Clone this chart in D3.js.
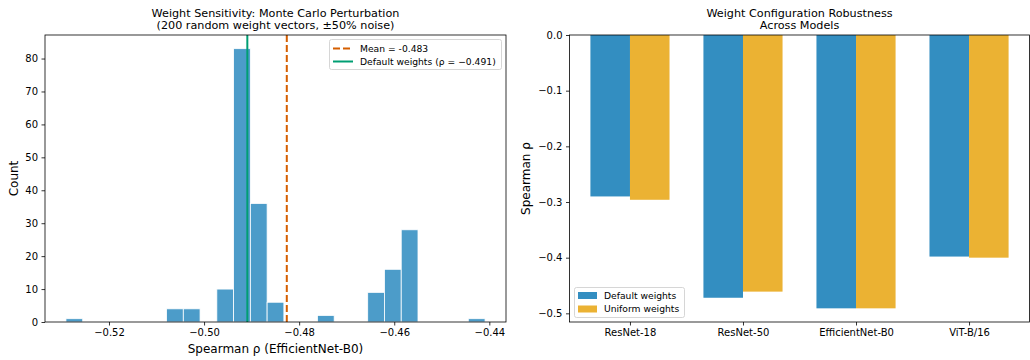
<!DOCTYPE html>
<html><head><meta charset="utf-8">
<script src="https://cdn.jsdelivr.net/npm/d3@7"></script>
<style>body{margin:0;background:#fff}svg{display:block;font-family:"DejaVu Sans",sans-serif}</style>
</head><body><svg id="c" width="1030" height="360"></svg>
<script>
// Histogram data (25 bins between binMin and binMax)
const binMin = -0.52905, binMax = -0.4409, nBins = 25;
const binIndex = [0, 6, 7, 9, 10, 11, 12, 15, 18, 19, 20, 24];
const binCount = [1, 4, 4, 10, 83, 36, 6, 2, 9, 16, 28, 1];
const meanRho = -0.4826, defaultRho = -0.4909;
const histXTicks = [-0.52, -0.50, -0.48, -0.46, -0.44];
const histYTicks = [0, 10, 20, 30, 40, 50, 60, 70, 80];

// Bar chart data
const models = ["ResNet-18", "ResNet-50", "EfficientNet-B0", "ViT-B/16"];
const defaultW = [-0.290, -0.472, -0.491, -0.398];
const uniformW = [-0.296, -0.461, -0.491, -0.400];
const barYTicks = [0.0, -0.1, -0.2, -0.3, -0.4, -0.5];

const svg = d3.select("#c");
const fmtMinus = s => s.replace("-", "\u2212");
const TICK_FS = 10, LABEL_FS = 12, TITLE_FS = 11.2, LEG_FS = 9.2;

// ---------- Left: histogram ----------
{
  const L = {l: 45, r: 506, t: 35, b: 322};
  const bw = (binMax - binMin) / nBins;
  const pad = (binMax - binMin) * 0.05;
  const x = d3.scaleLinear().domain([binMin - pad, binMax + pad]).range([L.l, L.r]);
  const y = d3.scaleLinear().domain([0, d3.max(binCount) * 1.05]).range([L.b, L.t]);
  const g = svg.append("g");
  const bins = binIndex.map((b, i) => ({x0: binMin + b * bw, x1: binMin + (b + 1) * bw, c: binCount[i]}));
  g.selectAll("rect.bar").data(bins).join("rect").attr("class", "bar")
    .attr("x", d => x(d.x0)).attr("width", d => x(d.x1) - x(d.x0))
    .attr("y", d => y(d.c)).attr("height", d => y(0) - y(d.c))
    .attr("fill", "#0072B2").attr("fill-opacity", 0.7)
    .attr("stroke", "#fff").attr("stroke-width", 0.8);
  g.append("line").attr("x1", x(meanRho)).attr("x2", x(meanRho)).attr("y1", L.t).attr("y2", L.b)
    .attr("stroke", "#D55E00").attr("stroke-width", 2).attr("stroke-dasharray", "7,3");
  g.append("line").attr("x1", x(defaultRho)).attr("x2", x(defaultRho)).attr("y1", L.t).attr("y2", L.b)
    .attr("stroke", "#009E73").attr("stroke-width", 2);
  const xa = g.append("g").attr("transform", `translate(0,${L.b})`)
    .call(d3.axisBottom(x).tickValues(histXTicks).tickSize(3.5).tickPadding(3.5).tickFormat(d => fmtMinus(d3.format(".2f")(d))));
  const ya = g.append("g").attr("transform", `translate(${L.l},0)`)
    .call(d3.axisLeft(y).tickValues(histYTicks).tickSize(3.5).tickPadding(3.5).tickFormat(d3.format("d")));
  [xa, ya].forEach(a => { a.selectAll("text").attr("font-size", TICK_FS).attr("fill", "#000").attr("font-family", "DejaVu Sans"); a.select(".domain").remove(); a.selectAll("line").attr("stroke", "#000").attr("stroke-width", 0.8); });
  g.append("rect").attr("x", L.l).attr("y", L.t).attr("width", L.r - L.l).attr("height", L.b - L.t)
    .attr("fill", "none").attr("stroke", "#000").attr("stroke-width", 0.8);
  const cx = (L.l + L.r) / 2;
  g.append("text").attr("x", cx).attr("y", 17).attr("text-anchor", "middle").attr("font-size", TITLE_FS).text("Weight Sensitivity: Monte Carlo Perturbation");
  g.append("text").attr("x", cx).attr("y", 29).attr("text-anchor", "middle").attr("font-size", TITLE_FS).text("(200 random weight vectors, \u00b150% noise)");
  g.append("text").attr("x", cx).attr("y", 353).attr("text-anchor", "middle").attr("font-size", LABEL_FS).text("Spearman \u03c1 (EfficientNet-B0)");
  g.append("text").attr("transform", `translate(18,${(L.t + L.b) / 2}) rotate(-90)`).attr("text-anchor", "middle").attr("font-size", LABEL_FS).text("Count");
  // legend
  const lg = g.append("g");
  lg.append("rect").attr("x", 329.5).attr("y", 39.5).attr("width", 172).attr("height", 30).attr("rx", 2)
    .attr("fill", "#fff").attr("fill-opacity", 0.8).attr("stroke", "#ccc").attr("stroke-width", 0.8);
  lg.append("line").attr("x1", 333).attr("x2", 353).attr("y1", 48.5).attr("y2", 48.5).attr("stroke", "#D55E00").attr("stroke-width", 2).attr("stroke-dasharray", "7,3");
  lg.append("line").attr("x1", 333).attr("x2", 353).attr("y1", 61.5).attr("y2", 61.5).attr("stroke", "#009E73").attr("stroke-width", 2);
  lg.append("text").attr("x", 360).attr("y", 51.8).attr("font-size", LEG_FS).text("Mean = " + meanRho.toFixed(3));
  lg.append("text").attr("x", 360).attr("y", 64.8).attr("font-size", LEG_FS).text("Default weights (\u03c1 = " + fmtMinus(defaultRho.toFixed(3)) + ")");
}

// ---------- Right: grouped bars ----------
{
  const R = {l: 569.5, r: 1029.5, t: 35, b: 322};
  const width = 0.35;
  const x = d3.scaleLinear().domain([-0.35 - 0.185, models.length - 1 + 0.35 + 0.185]).range([R.l, R.r]);
  const ymin = d3.min(defaultW.concat(uniformW)) * 1.05;
  const y = d3.scaleLinear().domain([ymin, 0]).range([R.b, R.t]);
  const g = svg.append("g");
  const series = [{vals: defaultW, off: -width / 2, col: "#0072B2", name: "Default weights"},
                  {vals: uniformW, off: width / 2, col: "#E69F00", name: "Uniform weights"}];
  series.forEach(s => {
    g.selectAll(null).data(s.vals).join("rect")
      .attr("x", (d, i) => x(i + s.off - width / 2)).attr("width", x(width) - x(0))
      .attr("y", y(0)).attr("height", d => y(d) - y(0))
      .attr("fill", s.col).attr("fill-opacity", 0.8);
  });
  const xa = g.append("g").attr("transform", `translate(0,${R.b})`)
    .call(d3.axisBottom(x).tickValues(d3.range(models.length)).tickSize(3.5).tickPadding(3.5).tickFormat(i => models[i]));
  const ya = g.append("g").attr("transform", `translate(${R.l},0)`)
    .call(d3.axisLeft(y).tickValues(barYTicks).tickSize(3.5).tickPadding(3.5).tickFormat(d => fmtMinus(d3.format(".1f")(d))));
  [xa, ya].forEach(a => { a.selectAll("text").attr("font-size", TICK_FS).attr("fill", "#000").attr("font-family", "DejaVu Sans"); a.select(".domain").remove(); a.selectAll("line").attr("stroke", "#000").attr("stroke-width", 0.8); });
  g.append("rect").attr("x", R.l).attr("y", R.t).attr("width", R.r - R.l).attr("height", R.b - R.t)
    .attr("fill", "none").attr("stroke", "#000").attr("stroke-width", 0.8);
  const cx = (R.l + R.r) / 2;
  g.append("text").attr("x", cx).attr("y", 17).attr("text-anchor", "middle").attr("font-size", TITLE_FS).text("Weight Configuration Robustness");
  g.append("text").attr("x", cx).attr("y", 29).attr("text-anchor", "middle").attr("font-size", TITLE_FS).text("Across Models");
  g.append("text").attr("transform", `translate(530,${(R.t + R.b) / 2}) rotate(-90)`).attr("text-anchor", "middle").attr("font-size", LABEL_FS).text("Spearman \u03c1");
  const lg = g.append("g");
  lg.append("rect").attr("x", 574.5).attr("y", 287.5).attr("width", 110).attr("height", 30).attr("rx", 2)
    .attr("fill", "#fff").attr("fill-opacity", 0.8).attr("stroke", "#ccc").attr("stroke-width", 0.8);
  series.forEach((s, i) => {
    lg.append("rect").attr("x", 578).attr("y", 292 + i * 13.5).attr("width", 19).attr("height", 7)
      .attr("fill", s.col).attr("fill-opacity", 0.8);
    lg.append("text").attr("x", 604).attr("y", 298.8 + i * 13.5).attr("font-size", LEG_FS).text(s.name);
  });
}
</script></body></html>
